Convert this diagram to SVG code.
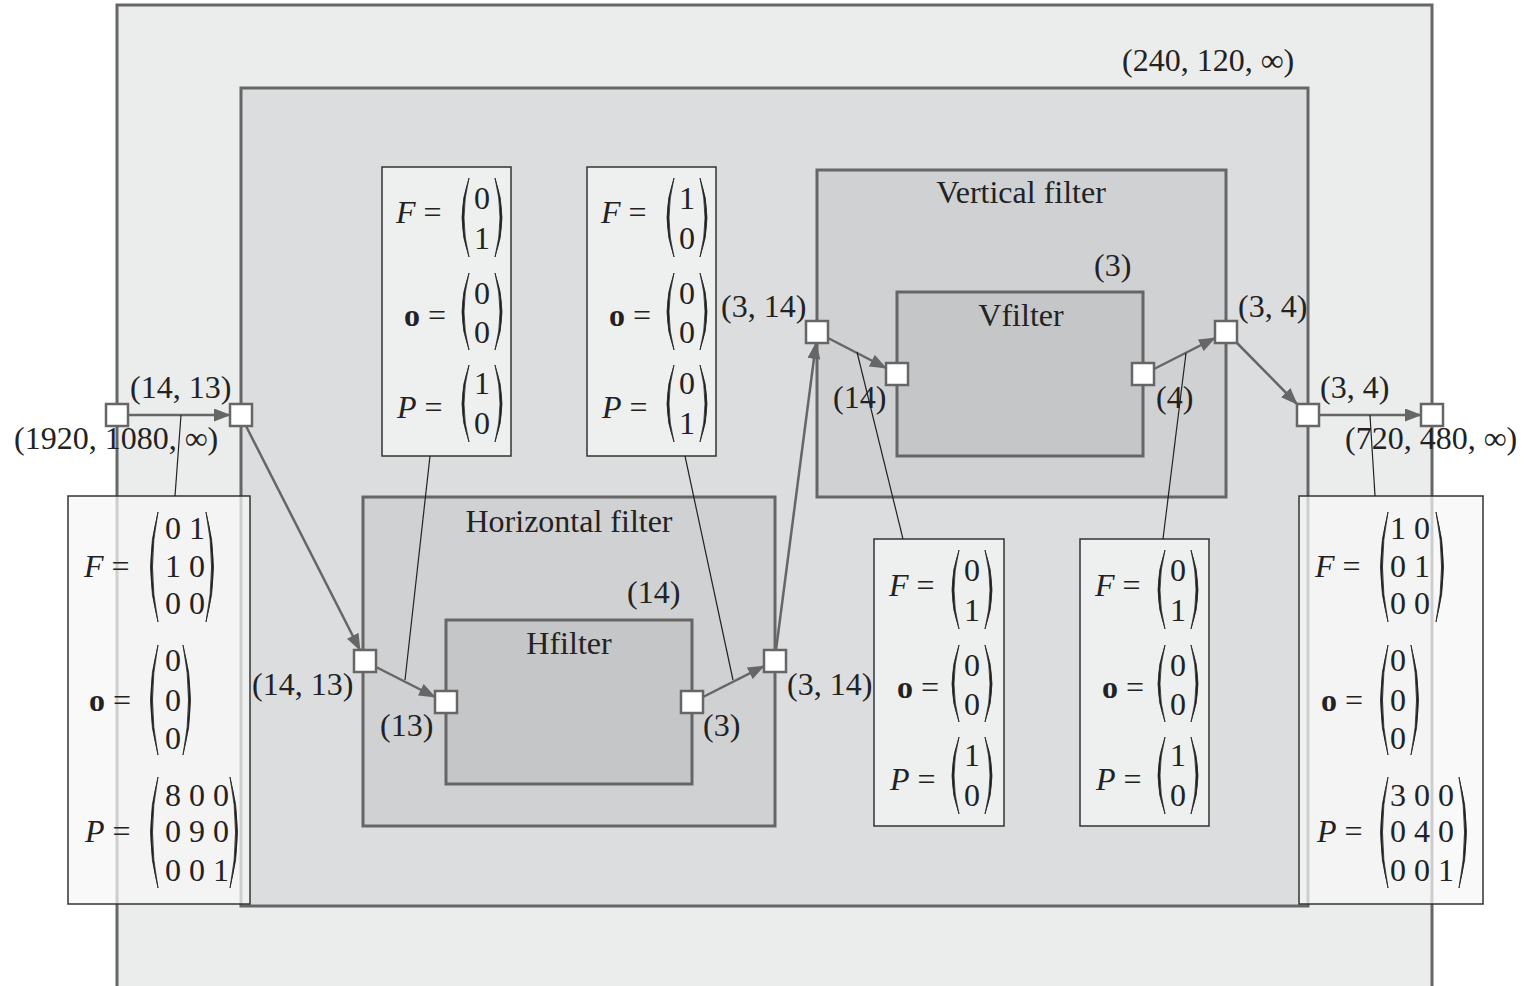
<svg xmlns="http://www.w3.org/2000/svg" width="1525" height="986" viewBox="0 0 1525 986">
<style>
text{font-family:"Liberation Serif","Times New Roman",serif;font-size:32px;fill:#222}
.it{font-style:italic}
.bf{font-weight:bold}
.box{stroke:#666;stroke-width:3}
.port{fill:#fff;stroke:#666;stroke-width:2.5}
.conn{stroke:#666;stroke-width:2.5;fill:none;marker-end:url(#ah)}
.ann{fill:#eeefef;stroke:#333;stroke-width:1.5}
.annT{fill:#f6f6f6;fill-opacity:0.72;stroke:#333;stroke-width:1.5}
.aline{stroke:#222;stroke-width:1.2;fill:none}
.par{stroke:#222;stroke-width:0.8;fill:#222}
.m{text-anchor:middle}
</style>
<defs>
<marker id="ah" markerWidth="17" markerHeight="13" refX="16" refY="6.5" orient="auto" markerUnits="userSpaceOnUse">
<path d="M0,0 L17,6.5 L0,13 z" fill="#666"/>
</marker>
</defs>
<g id="outer"><rect class="box" x="117" y="5" width="1315" height="995" fill="#ebecec"/></g>
<g id="graph"><rect class="box" x="241" y="88" width="1067" height="818" fill="#dcdddf"/>
<text x="1122" y="71">(240, 120, ∞)</text></g>
<g id="horizontal-filter"><rect class="box" x="363" y="497" width="412" height="329" fill="#d0d1d3"/>
<text class="m" x="569" y="532">Horizontal filter</text></g>
<g id="hfilter"><rect class="box" x="446" y="620" width="246" height="164" fill="#c5c6c8"/>
<text class="m" x="569" y="654">Hfilter</text></g>
<g id="vertical-filter"><rect class="box" x="817" y="170" width="409" height="327" fill="#d0d1d3"/>
<text class="m" x="1021" y="203">Vertical filter</text></g>
<g id="vfilter"><rect class="box" x="897" y="292" width="246" height="164" fill="#c5c6c8"/>
<text class="m" x="1021" y="326">Vfilter</text></g>
<g id="connectors">
<line class="conn" x1="128" y1="415" x2="230" y2="415"/>
<line class="conn" x1="246" y1="426" x2="360" y2="650"/>
<line class="conn" x1="376" y1="667" x2="435" y2="697"/>
<line class="conn" x1="703" y1="697" x2="764" y2="666"/>
<line class="conn" x1="776" y1="650" x2="816" y2="343"/>
<line class="conn" x1="828" y1="338" x2="886" y2="368"/>
<line class="conn" x1="1154" y1="369" x2="1215" y2="338"/>
<line class="conn" x1="1237" y1="343" x2="1297" y2="404"/>
<line class="conn" x1="1319" y1="415" x2="1421" y2="415"/>
</g>
<g id="ports">
<rect class="port" x="106" y="404" width="22" height="22"/>
<rect class="port" x="230" y="404" width="22" height="22"/>
<rect class="port" x="354" y="650" width="22" height="22"/>
<rect class="port" x="435" y="691" width="22" height="22"/>
<rect class="port" x="681" y="691" width="22" height="22"/>
<rect class="port" x="764" y="650" width="22" height="22"/>
<rect class="port" x="806" y="321" width="22" height="22"/>
<rect class="port" x="886" y="363" width="22" height="22"/>
<rect class="port" x="1132" y="363" width="22" height="22"/>
<rect class="port" x="1215" y="321" width="22" height="22"/>
<rect class="port" x="1297" y="404" width="22" height="22"/>
<rect class="port" x="1421" y="404" width="22" height="22"/>
</g>
<g id="labels">
<text x="130" y="398">(14, 13)</text>
<text x="14" y="449">(1920, 1080, ∞)</text>
<text x="252" y="695">(14, 13)</text>
<text x="380" y="736">(13)</text>
<text x="627" y="603">(14)</text>
<text x="703" y="736">(3)</text>
<text x="787" y="695">(3, 14)</text>
<text x="721" y="317">(3, 14)</text>
<text x="1094" y="276">(3)</text>
<text x="833" y="408">(14)</text>
<text x="1156" y="408">(4)</text>
<text x="1238" y="317">(3, 4)</text>
<text x="1320" y="398">(3, 4)</text>
<text x="1345" y="449">(720, 480, ∞)</text>
</g>
<g id="ann-input">
<rect class="annT" x="68" y="496" width="182" height="408"/>
<text x="84" y="577"><tspan class="it">F</tspan> =</text>
<path class="par" d="M158,512 Q143,567 158,622 Q147,567 158,512 Z"/>
<text class="m" x="173" y="539">0</text><text class="m" x="197" y="539">1</text>
<text class="m" x="173" y="577">1</text><text class="m" x="197" y="577">0</text>
<text class="m" x="173" y="614">0</text><text class="m" x="197" y="614">0</text>
<path class="par" d="M206,512 Q221,567 206,622 Q217,567 206,512 Z"/>
<text x="89" y="711"><tspan class="bf">o</tspan> =</text>
<path class="par" d="M158,645 Q143,700 158,755 Q147,700 158,645 Z"/>
<text class="m" x="173" y="671">0</text><text class="m" x="173" y="711">0</text><text class="m" x="173" y="749">0</text>
<path class="par" d="M183,645 Q198,700 183,755 Q194,700 183,645 Z"/>
<text x="85" y="842"><tspan class="it">P</tspan> =</text>
<path class="par" d="M158,777 Q143,832 158,888 Q147,832 158,777 Z"/>
<text class="m" x="173" y="806">8</text><text class="m" x="197" y="806">0</text><text class="m" x="221" y="806">0</text>
<text class="m" x="173" y="842">0</text><text class="m" x="197" y="842">9</text><text class="m" x="221" y="842">0</text>
<text class="m" x="173" y="881">0</text><text class="m" x="197" y="881">0</text><text class="m" x="221" y="881">1</text>
<path class="par" d="M230,777 Q245,832 230,888 Q241,832 230,777 Z"/>
<line class="aline" x1="175" y1="496" x2="181" y2="415"/>
</g>
<g id="ann-output">
<rect class="annT" x="1299" y="496" width="184" height="408"/>
<text x="1315" y="577"><tspan class="it">F</tspan> =</text>
<path class="par" d="M1388,512 Q1373,567 1388,622 Q1377,567 1388,512 Z"/>
<text class="m" x="1398" y="539">1</text><text class="m" x="1422" y="539">0</text>
<text class="m" x="1398" y="577">0</text><text class="m" x="1422" y="577">1</text>
<text class="m" x="1398" y="614">0</text><text class="m" x="1422" y="614">0</text>
<path class="par" d="M1436,512 Q1451,567 1436,622 Q1447,567 1436,512 Z"/>
<text x="1321" y="711"><tspan class="bf">o</tspan> =</text>
<path class="par" d="M1388,645 Q1373,700 1388,755 Q1377,700 1388,645 Z"/>
<text class="m" x="1398" y="671">0</text><text class="m" x="1398" y="711">0</text><text class="m" x="1398" y="749">0</text>
<path class="par" d="M1411,645 Q1426,700 1411,755 Q1422,700 1411,645 Z"/>
<text x="1317" y="842"><tspan class="it">P</tspan> =</text>
<path class="par" d="M1388,777 Q1373,832 1388,888 Q1377,832 1388,777 Z"/>
<text class="m" x="1398" y="806">3</text><text class="m" x="1422" y="806">0</text><text class="m" x="1446" y="806">0</text>
<text class="m" x="1398" y="842">0</text><text class="m" x="1422" y="842">4</text><text class="m" x="1446" y="842">0</text>
<text class="m" x="1398" y="881">0</text><text class="m" x="1422" y="881">0</text><text class="m" x="1446" y="881">1</text>
<path class="par" d="M1459,777 Q1474,832 1459,888 Q1470,832 1459,777 Z"/>
<line class="aline" x1="1375" y1="496" x2="1370" y2="415"/>
</g>
<g id="ann-h-in">
<rect class="ann" x="382" y="167" width="129" height="289"/>
<text x="396" y="223"><tspan class="it">F</tspan> =</text>
<path class="par" d="M469,178 Q455,218 469,257 Q459,218 469,178 Z"/>
<text class="m" x="482" y="209">0</text><text class="m" x="482" y="249">1</text>
<path class="par" d="M495,178 Q509,218 495,257 Q505,218 495,178 Z"/>
<text x="404" y="326"><tspan class="bf">o</tspan> =</text>
<path class="par" d="M469,273 Q455,312 469,350 Q459,312 469,273 Z"/>
<text class="m" x="482" y="304">0</text><text class="m" x="482" y="343">0</text>
<path class="par" d="M495,273 Q509,312 495,350 Q505,312 495,273 Z"/>
<text x="397" y="418"><tspan class="it">P</tspan> =</text>
<path class="par" d="M469,365 Q455,404 469,442 Q459,404 469,365 Z"/>
<text class="m" x="482" y="394">1</text><text class="m" x="482" y="434">0</text>
<path class="par" d="M495,365 Q509,404 495,442 Q505,404 495,365 Z"/>
<line class="aline" x1="430" y1="456" x2="405" y2="680"/>
</g>
<g id="ann-h-out">
<rect class="ann" x="587" y="167" width="129" height="289"/>
<text x="601" y="223"><tspan class="it">F</tspan> =</text>
<path class="par" d="M674,178 Q660,218 674,257 Q664,218 674,178 Z"/>
<text class="m" x="687" y="209">1</text><text class="m" x="687" y="249">0</text>
<path class="par" d="M700,178 Q714,218 700,257 Q710,218 700,178 Z"/>
<text x="609" y="326"><tspan class="bf">o</tspan> =</text>
<path class="par" d="M674,273 Q660,312 674,350 Q664,312 674,273 Z"/>
<text class="m" x="687" y="304">0</text><text class="m" x="687" y="343">0</text>
<path class="par" d="M700,273 Q714,312 700,350 Q710,312 700,273 Z"/>
<text x="602" y="418"><tspan class="it">P</tspan> =</text>
<path class="par" d="M674,365 Q660,404 674,442 Q664,404 674,365 Z"/>
<text class="m" x="687" y="394">0</text><text class="m" x="687" y="434">1</text>
<path class="par" d="M700,365 Q714,404 700,442 Q710,404 700,365 Z"/>
<line class="aline" x1="685" y1="456" x2="733" y2="680"/>
</g>
<g id="ann-v-in">
<rect class="ann" x="874" y="539" width="130" height="287"/>
<text x="889" y="596"><tspan class="it">F</tspan> =</text>
<path class="par" d="M959,550 Q945,590 959,629 Q949,590 959,550 Z"/>
<text class="m" x="972" y="581">0</text><text class="m" x="972" y="621">1</text>
<path class="par" d="M985,550 Q999,590 985,629 Q995,590 985,550 Z"/>
<text x="897" y="698"><tspan class="bf">o</tspan> =</text>
<path class="par" d="M959,645 Q945,684 959,722 Q949,684 959,645 Z"/>
<text class="m" x="972" y="676">0</text><text class="m" x="972" y="715">0</text>
<path class="par" d="M985,645 Q999,684 985,722 Q995,684 985,645 Z"/>
<text x="890" y="790"><tspan class="it">P</tspan> =</text>
<path class="par" d="M959,737 Q945,776 959,814 Q949,776 959,737 Z"/>
<text class="m" x="972" y="766">1</text><text class="m" x="972" y="806">0</text>
<path class="par" d="M985,737 Q999,776 985,814 Q995,776 985,737 Z"/>
<line class="aline" x1="903" y1="539" x2="857" y2="352"/>
</g>
<g id="ann-v-out">
<rect class="ann" x="1080" y="539" width="129" height="287"/>
<text x="1095" y="596"><tspan class="it">F</tspan> =</text>
<path class="par" d="M1165,550 Q1151,590 1165,629 Q1155,590 1165,550 Z"/>
<text class="m" x="1178" y="581">0</text><text class="m" x="1178" y="621">1</text>
<path class="par" d="M1191,550 Q1205,590 1191,629 Q1201,590 1191,550 Z"/>
<text x="1102" y="698"><tspan class="bf">o</tspan> =</text>
<path class="par" d="M1165,645 Q1151,684 1165,722 Q1155,684 1165,645 Z"/>
<text class="m" x="1178" y="676">0</text><text class="m" x="1178" y="715">0</text>
<path class="par" d="M1191,645 Q1205,684 1191,722 Q1201,684 1191,645 Z"/>
<text x="1096" y="790"><tspan class="it">P</tspan> =</text>
<path class="par" d="M1165,737 Q1151,776 1165,814 Q1155,776 1165,737 Z"/>
<text class="m" x="1178" y="766">1</text><text class="m" x="1178" y="806">0</text>
<path class="par" d="M1191,737 Q1205,776 1191,814 Q1201,776 1191,737 Z"/>
<line class="aline" x1="1163" y1="539" x2="1186" y2="353"/>
</g>
</svg>
